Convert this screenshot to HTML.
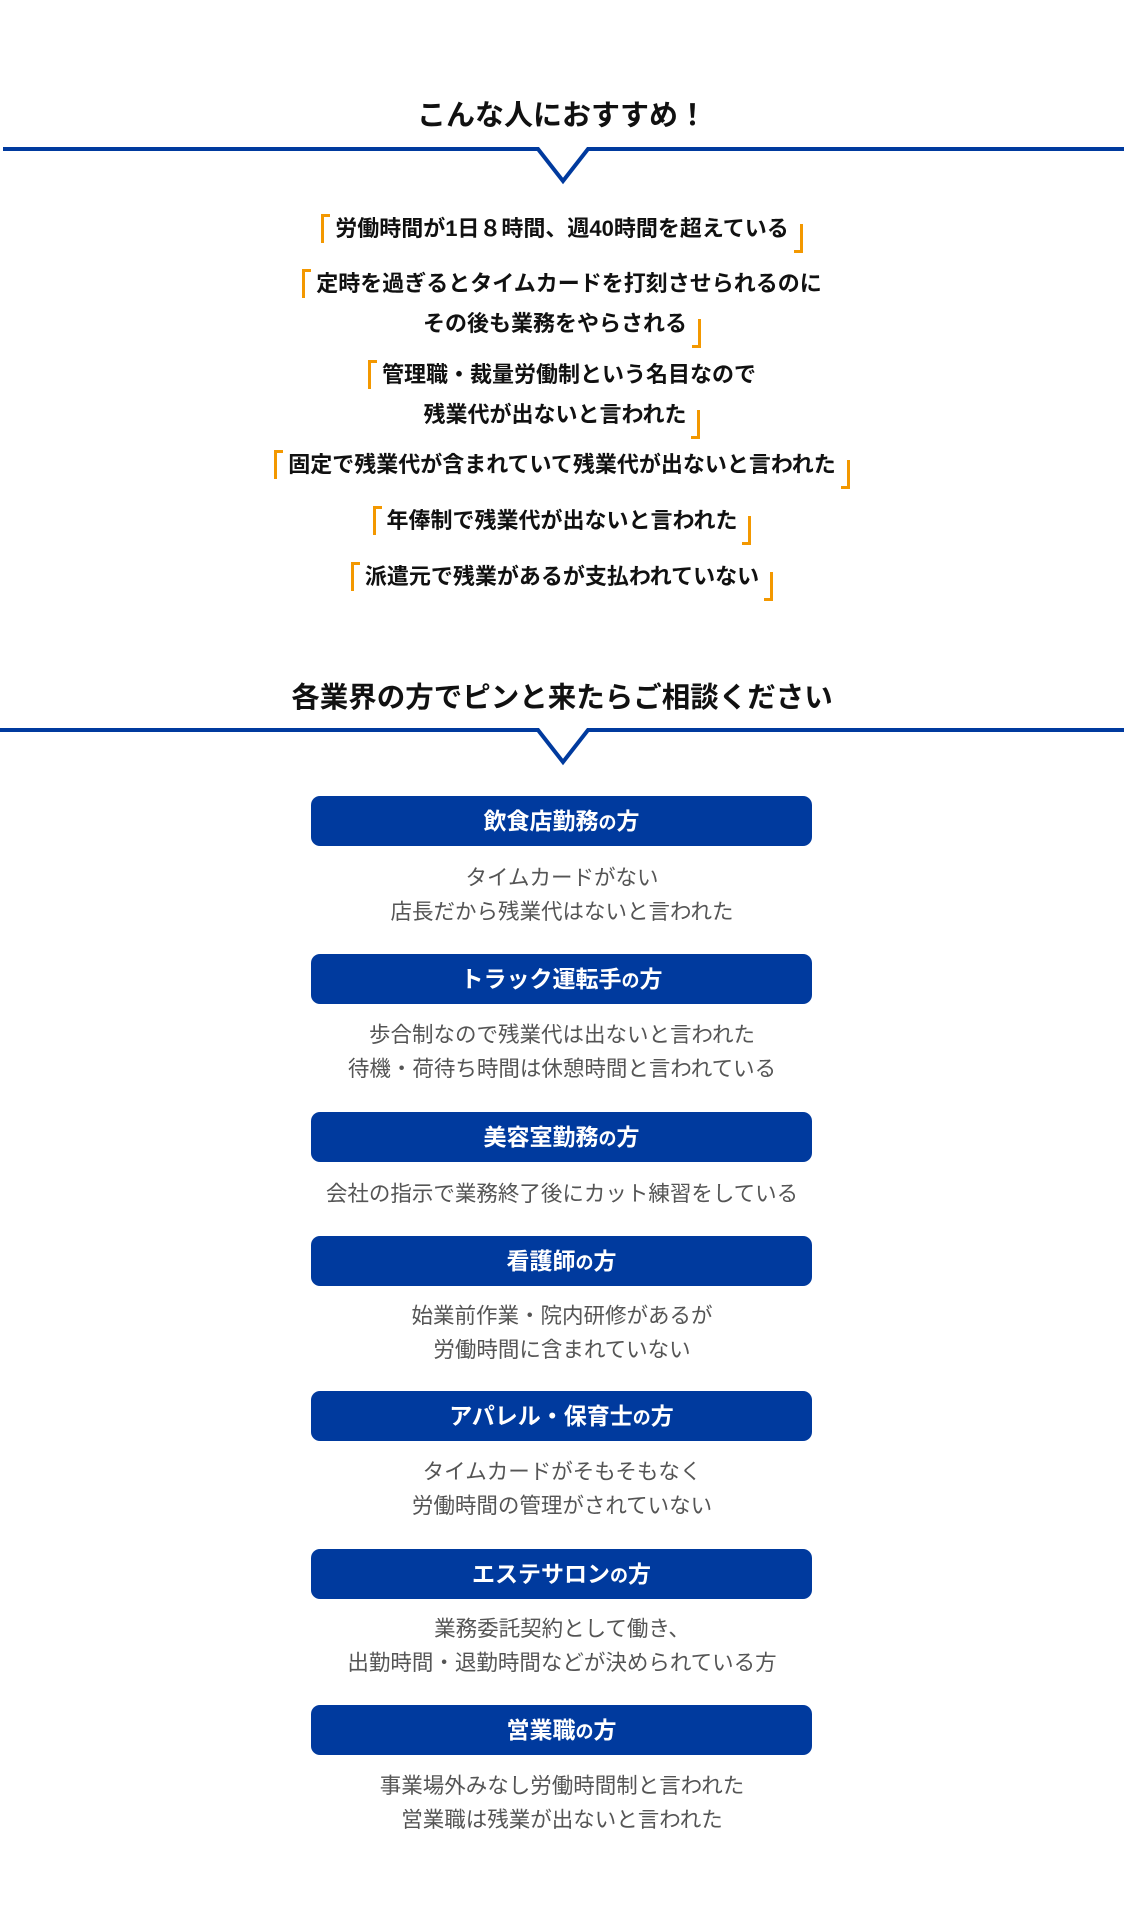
<!DOCTYPE html>
<html><head><meta charset="utf-8"><style>
body{margin:0;width:1124px;height:1931px;background:#fff;position:relative;overflow:hidden;font-family:"Liberation Sans","Noto Sans CJK JP",sans-serif}
.t{position:absolute;left:0;width:1124px;text-align:center;white-space:nowrap}
.h{font-weight:bold;color:#111}
.q{font-weight:bold;font-size:22px;color:#111;line-height:22px}
.ol,.or{display:inline-block;width:6px;height:26px;border:0 solid #f39800;position:relative}
.ol{border-left-width:3px;border-top-width:3px;top:-4px;margin-right:5px;vertical-align:top}
.or{border-right-width:3px;border-bottom-width:3px;top:6px;margin-left:5px;vertical-align:top}
.b{position:absolute;left:311px;width:501px;height:50px;background:#003a9e;border-radius:9px;color:#fff;font-weight:bold;font-size:23px;text-align:center;line-height:50px}
.b small{font-size:18px}
.d{color:#555;font-size:21.5px;line-height:34px}
</style></head><body>
<div class="t h" style="top:98px;font-size:29px;line-height:36px">こんな人におすすめ！</div>
<svg style="position:absolute;left:0;top:0" width="1124" height="800">
<polyline points="3,149 538,149 563,181 588,149 1124,149" fill="none" stroke="#003a9e" stroke-width="4"/>
<polyline points="0,730 538,730 563,762 588,730 1124,730" fill="none" stroke="#003a9e" stroke-width="4"/>
</svg>
<div class="t q" style="top:218px"><span class="ol"></span>労働時間が1日８時間、週40時間を超えている<span class="or"></span></div>
<div class="t q" style="top:273px"><span class="ol"></span>定時を過ぎるとタイムカードを打刻させられるのに</div>
<div class="t q" style="top:313px">その後も業務をやらされる<span class="or"></span></div>
<div class="t q" style="top:364px"><span class="ol"></span>管理職・裁量労働制という名目なので</div>
<div class="t q" style="top:404px">残業代が出ないと言われた<span class="or"></span></div>
<div class="t q" style="top:454px"><span class="ol"></span>固定で残業代が含まれていて残業代が出ないと言われた<span class="or"></span></div>
<div class="t q" style="top:510px"><span class="ol"></span>年俸制で残業代が出ないと言われた<span class="or"></span></div>
<div class="t q" style="top:566px"><span class="ol"></span>派遣元で残業があるが支払われていない<span class="or"></span></div>
<div class="t h" style="top:680px;font-size:28.5px;line-height:36px">各業界の方でピンと来たらご相談ください</div>

<div class="b" style="top:796px">飲食店勤務<small>の</small>方</div>
<div class="t d" style="top:861px">タイムカードがない<br>店長だから残業代はないと言われた</div>
<div class="b" style="top:954px">トラック運転手<small>の</small>方</div>
<div class="t d" style="top:1018px">歩合制なので残業代は出ないと言われた<br>待機・荷待ち時間は休憩時間と言われている</div>
<div class="b" style="top:1112px">美容室勤務<small>の</small>方</div>
<div class="t d" style="top:1177px">会社の指示で業務終了後にカット練習をしている</div>
<div class="b" style="top:1236px">看護師<small>の</small>方</div>
<div class="t d" style="top:1299px">始業前作業・院内研修があるが<br>労働時間に含まれていない</div>
<div class="b" style="top:1391px">アパレル・保育士<small>の</small>方</div>
<div class="t d" style="top:1455px">タイムカードがそもそもなく<br>労働時間の管理がされていない</div>
<div class="b" style="top:1549px">エステサロン<small>の</small>方</div>
<div class="t d" style="top:1612px">業務委託契約として働き、<br>出勤時間・退勤時間などが決められている方</div>
<div class="b" style="top:1705px">営業職<small>の</small>方</div>
<div class="t d" style="top:1769px">事業場外みなし労働時間制と言われた<br>営業職は残業が出ないと言われた</div>
</body></html>
